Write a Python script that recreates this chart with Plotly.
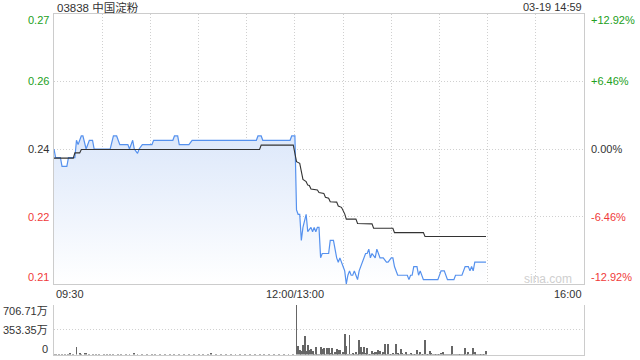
import plotly.graph_objects as go

# ---------------- data ----------------
title_text = "03838 中国淀粉"
time_text = "03-19 14:59"
prev_close = 0.24
pct_levels = [12.92, 6.46, 0.0, -6.46, -12.92]
left_labels = ["0.27", "0.26", "0.24", "0.22", "0.21"]
right_labels = ["+12.92%", "+6.46%", "0.00%", "-6.46%", "-12.92%"]
x_labels = ["09:30", "12:00/13:00", "16:00"]
x_label_minutes = [0, 150, 330]
grid_minutes = [0, 30, 60, 90, 120, 150, 180, 210, 240, 270, 300, 330]
vol_ticks = [0, 353.35, 706.71]
vol_labels = ["0", "353.35万", "706.71万"]

# price line (minute index from 09:30, lunch removed)
price_min = [0, 1, 4, 5, 8, 9, 13, 14, 15, 17, 18, 20, 22, 24, 25, 35, 37, 39, 41, 46,
             47, 49, 50, 52, 53, 55, 61, 62, 74, 75, 77, 78, 84, 86, 126, 127, 129, 130,
             147, 148, 150,
             151, 152, 153, 154, 155, 157, 158, 160, 161, 162, 163, 164, 165, 166, 167,
             171, 172, 174, 176, 177, 178, 180, 181, 182, 183, 184, 185, 186, 187, 188,
             189, 190, 192, 194, 195, 196, 197, 198, 200, 201, 203, 205, 207, 208, 210,
             211, 212, 214, 220, 221, 222, 223, 224, 226, 227, 228, 230, 239, 241, 243,
             245, 249, 250, 254, 256, 258, 259, 260, 261, 262, 269]
price_val = [0.240, 0.238, 0.238, 0.236, 0.236, 0.238, 0.238, 0.242, 0.241, 0.243, 0.243,
             0.240, 0.242, 0.242, 0.240, 0.240, 0.243, 0.243, 0.241, 0.241, 0.240, 0.242,
             0.240, 0.239, 0.240, 0.241, 0.241, 0.242, 0.242, 0.243, 0.243, 0.241, 0.241,
             0.242, 0.242, 0.243, 0.243, 0.242, 0.242, 0.243, 0.243,
             0.226, 0.225, 0.225, 0.219, 0.222, 0.225, 0.221, 0.222, 0.221, 0.222, 0.221,
             0.222, 0.222, 0.215, 0.216, 0.216, 0.219, 0.219, 0.215, 0.214, 0.215, 0.213,
             0.212, 0.209, 0.211, 0.212, 0.211, 0.211, 0.212, 0.211, 0.210, 0.212, 0.214,
             0.216, 0.216, 0.217, 0.215, 0.216, 0.215, 0.217, 0.215, 0.215, 0.214, 0.214,
             0.215, 0.215, 0.213, 0.211, 0.211, 0.210, 0.211, 0.211, 0.213, 0.213, 0.211,
             0.212, 0.210, 0.210, 0.212, 0.212, 0.210, 0.210, 0.211, 0.211, 0.213, 0.213,
             0.212, 0.213, 0.212, 0.214, 0.214]

# average price line
avg_min = [0, 12, 13, 16, 17, 128, 129, 149, 150, 151, 153, 154, 155, 157, 158, 159, 160,
           164, 165, 168, 169, 171, 172, 176, 177, 179, 181, 182, 188, 189, 198, 199, 211,
           212, 230, 231, 269]
avg_val = [0.2379, 0.2379, 0.2391, 0.2391, 0.2399, 0.2399, 0.2409, 0.2409, 0.2390, 0.2371,
           0.2367, 0.2352, 0.2330, 0.2325, 0.2317, 0.2316, 0.2308, 0.2306, 0.2300, 0.2298,
           0.2289, 0.2287, 0.2279, 0.2278, 0.2269, 0.2266, 0.2251, 0.2239, 0.2239, 0.2229,
           0.2228, 0.2218, 0.2218, 0.2208, 0.2208, 0.2199, 0.2199]

# volume (万)
vol_am_min = [0, 1, 3, 5, 7, 9, 10, 12, 14, 16, 17, 19, 20, 22, 24, 26, 28, 31, 33, 35, 37,
              40, 42, 45, 47, 50, 52, 55, 58, 61, 63, 66, 69, 72, 75, 78, 81, 84, 87, 90,
              93, 96, 98, 101, 104, 107, 110, 113, 116, 119, 122, 125, 128, 131, 134, 137,
              140, 143, 146, 149]
vol_am = [12, 8, 10, 8, 10, 8, 15, 10, 110, 35, 12, 30, 20, 10, 8, 10, 8, 10, 8, 10, 8,
          10, 8, 10, 8, 28, 10, 8, 10, 8, 10, 8, 10, 8, 10, 8, 10, 8, 10, 8,
          10, 8, 25, 8, 10, 8, 10, 8, 10, 8, 10, 8, 10, 8, 10, 8, 10, 8, 10, 8]
vol_pm_start = 151
vol_pm = [707, 134, 72, 52, 148, 263, 62, 148, 72, 86, 52, 14, 119, 5, 8, 119, 86, 100, 5,
          100, 100, 24, 100, 14, 38, 86, 72, 72, 10, 38, 301, 134, 14, 277, 14, 24, 10, 38,
          14, 215, 119, 38, 110, 24, 100, 14, 8, 52, 24, 38, 38, 72, 62, 14, 38, 158, 14,
          158, 8, 14, 24, 14, 158, 24, 14, 86, 24, 14, 48, 8, 14, 24, 8, 14, 14, 72, 14, 48,
          14, 14, 215, 8, 14, 62, 24, 14, 14, 8, 14, 14, 24, 48, 8, 14, 14, 14, 8, 134, 14,
          14, 8, 14, 14, 14, 8, 100, 14, 48, 14, 8, 100, 38, 5, 14, 8, 14, 8, 14, 62]
vol_pm_min = [vol_pm_start + i for i in range(len(vol_pm))]

# ---------------- styles ----------------
FONT = "Liberation Sans, Arial, Noto Sans CJK SC"
GREEN = "#22a022"
RED = "#f03a3a"
DARK = "#333333"
GRID = "#d0d0d0"
BOX = "#cccccc"

W, H = 640, 360
x_dom = [54 / W, 584 / W]
y_main = [1 - 284 / H, 1 - 14 / H]
y_vol = [1 - 354.5 / H, 1 - 304.5 / H]

lo = prev_close * (1 - 0.1292)
hi = prev_close * (1 + 0.1292)

fig = go.Figure()
fig.add_trace(go.Scatter(
    x=price_min, y=price_val, mode="lines", fill="tozeroy",
    line=dict(color="#5591ee", width=1.2),
    fillgradient=dict(type="vertical", start=lo, stop=0.243,
                      colorscale=[[0, "rgba(255,255,255,1)"], [1, "rgba(221,232,250,1)"]]),
    hoverinfo="skip", xaxis="x", yaxis="y"))
fig.add_trace(go.Scatter(
    x=avg_min, y=avg_val, mode="lines", line=dict(color="#333333", width=1.1),
    hoverinfo="skip", xaxis="x", yaxis="y"))
fig.add_trace(go.Bar(x=vol_am_min + vol_pm_min, y=vol_am + vol_pm, width=0.6,
                     marker=dict(color="#666666", line=dict(width=0)),
                     hoverinfo="skip", xaxis="x2", yaxis="y2"))

ann = []
for p, l, r in zip(pct_levels, left_labels, right_labels):
    c = GREEN if p > 0 else (RED if p < 0 else DARK)
    ys = -6 if p == pct_levels[0] else (7 if p == pct_levels[-1] else 0)
    yv = prev_close * (1 + p / 100)
    ann.append(dict(x=51 / W, y=yv, xref="paper", yref="y", text=l, showarrow=False,
                    xanchor="right", yanchor="middle", yshift=ys,
                    font=dict(family=FONT, size=11, color=c)))
    ann.append(dict(x=589 / W, y=yv, xref="paper", yref="y", text=r, showarrow=False,
                    xanchor="left", yanchor="middle", yshift=ys,
                    font=dict(family=FONT, size=11, color=c)))
for m, t, xa in zip(x_label_minutes, x_labels, ["left", "center", "right"]):
    ann.append(dict(x=m, y=1 - 294 / H, xref="x", yref="paper", text=t, showarrow=False,
                    xanchor=xa, yanchor="middle", font=dict(family=FONT, size=11, color=DARK)))
for v, t in zip(vol_ticks, vol_labels):
    ys = -6 if v == vol_ticks[-1] else (6 if v == 0 else 0)
    ann.append(dict(x=50 / W, y=v, xref="paper", yref="y2", text=t, showarrow=False,
                    xanchor="right", yanchor="middle", yshift=ys,
                    font=dict(family=FONT, size=11, color=DARK)))
ann.append(dict(x=55 / W, y=1 - 7 / H, xref="paper", yref="paper", text=title_text,
                showarrow=False, xanchor="left", yanchor="middle",
                font=dict(family=FONT, size=11.5, color=DARK)))
ann.append(dict(x=584 / W, y=1 - 7 / H, xref="paper", yref="paper", text=time_text,
                showarrow=False, xanchor="right", yanchor="middle",
                font=dict(family=FONT, size=11, color=DARK)))
ann.append(dict(x=574 / W, y=1 - 279 / H, xref="paper", yref="paper", text="sina.com",
                showarrow=False, xanchor="right", yanchor="middle",
                font=dict(family=FONT, size=12, color="#cfcfcf")))

fig.update_layout(
    width=W, height=H, margin=dict(l=0, r=0, t=0, b=0),
    paper_bgcolor="white", plot_bgcolor="white", showlegend=False, bargap=0,
    annotations=ann,
    xaxis=dict(domain=x_dom, range=[0, 330], tickvals=grid_minutes, showticklabels=False,
               ticks="", showgrid=True, gridcolor=GRID, griddash="1px,2px", gridwidth=1,
               showline=True, mirror=True, linecolor=BOX, linewidth=1, zeroline=False,
               anchor="y", fixedrange=True),
    yaxis=dict(domain=y_main, range=[lo, hi],
               tickvals=[prev_close * (1 + p / 100) for p in pct_levels[1:-1]],
               showticklabels=False, ticks="", showgrid=True, gridcolor=GRID,
               griddash="1px,2px", gridwidth=1, showline=True, mirror=True,
               linecolor=BOX, linewidth=1, zeroline=False, anchor="x", fixedrange=True),
    xaxis2=dict(domain=x_dom, range=[0, 330], showticklabels=False, ticks="",
                showgrid=False, showline=True, linecolor=BOX, linewidth=1,
                zeroline=False, anchor="y2", fixedrange=True),
    yaxis2=dict(domain=y_vol, range=[0, 706.71], tickvals=vol_ticks[1:],
                showticklabels=False, ticks="", showgrid=True, gridcolor=GRID,
                griddash="1px,2px", gridwidth=1, showline=True, mirror=True,
                linecolor=BOX, linewidth=1, zeroline=False, anchor="x2", fixedrange=True),
)

fig.write_html("out.html")
